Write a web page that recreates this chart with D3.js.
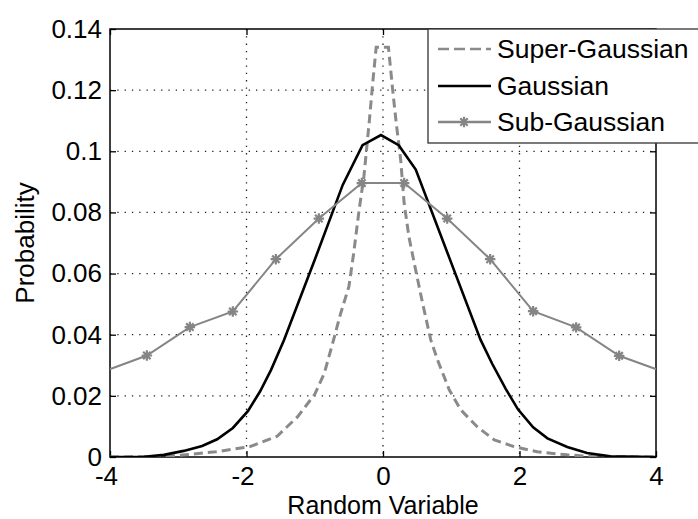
<!DOCTYPE html>
<html>
<head>
<meta charset="utf-8">
<script src="https://cdn.jsdelivr.net/npm/d3@7"></script>
<style>
  body { margin: 0; background: #fff; }
  svg { display: block; font-family: "Liberation Sans", Arial, sans-serif; }
</style>
</head>
<body>
<svg id="chart"></svg>
<script>
// values
var superX = [-4, -3.2, -2.9, -2.45, -1.95, -1.55, -1.25, -1.0, -0.86, -0.74, -0.62, -0.5, -0.43, -0.35, -0.28, -0.2, -0.15, -0.1,
  0.08, 0.14, 0.19, 0.26, 0.31, 0.38, 0.48, 0.58, 0.70, 0.80, 0.97, 1.14, 1.38, 1.63, 1.92, 2.26, 2.70, 3.09, 4];
var superY = [0, 0.0001, 0.0007, 0.0017, 0.0034, 0.0068, 0.0132, 0.0205, 0.0274, 0.0370, 0.0470, 0.0557, 0.0666, 0.0808, 0.0917, 0.110, 0.1225, 0.134,
  0.134, 0.1205, 0.110, 0.097, 0.083, 0.072, 0.061, 0.0503, 0.0383, 0.0317, 0.022, 0.0154, 0.0099, 0.0056, 0.0034, 0.0017, 0.0007, 0.0001, 0];

var gaussX = [-4, -3.5, -3.21, -2.92, -2.65, -2.43, -2.2, -1.98, -1.8, -1.64, -1.45, -1.0, -0.59, -0.30, -0.03, 0.23, 0.48,
  1.0, 1.43, 1.6, 1.8, 1.98, 2.2, 2.41, 2.70, 2.99, 3.33, 4];
var gaussY = [0, 0.0001, 0.0007, 0.0020, 0.0036, 0.0058, 0.0095, 0.0150, 0.0215, 0.0285, 0.0383, 0.0645, 0.089, 0.102, 0.1053, 0.102, 0.094,
  0.0635, 0.0383, 0.0305, 0.0222, 0.0155, 0.0097, 0.0061, 0.0033, 0.0013, 0.0002, 0];

var subX = [-4.09, -3.46, -2.83, -2.2, -1.57, -0.94, -0.31, 0.31, 0.94, 1.57, 2.2, 2.83, 3.46, 4.09];
var subY = [0.028, 0.0332, 0.0425, 0.0476, 0.0647, 0.078, 0.0896, 0.0896, 0.078, 0.0647, 0.0477, 0.0424, 0.0331, 0.028];

var xTicks = [-4, -2, 0, 2, 4];
var yTicks = [0, 0.02, 0.04, 0.06, 0.08, 0.1, 0.12, 0.14];
var seriesNames = ["Super-Gaussian", "Gaussian", "Sub-Gaussian"];

var margin = { top: 29, right: 42, bottom: 62, left: 110 },
  width = 698 - margin.left - margin.right,
  height = 519 - margin.top - margin.bottom;

var svg = d3.select("#chart")
  .attr("width", 698)
  .attr("height", 519)
  .append("g")
  .attr("transform", "translate(" + margin.left + "," + margin.top + ")");

var x = d3.scaleLinear().domain([-4, 4]).range([0, width]);
var y = d3.scaleLinear().domain([0, 0.14]).range([height, 0]);

svg.append("clipPath").attr("id", "plotclip")
  .append("rect").attr("width", width).attr("height", height);

// dotted grid
svg.selectAll(".vgrid")
  .data(xTicks.filter(function (d) { return d > -4 && d < 4; }))
  .enter().append("line")
  .attr("x1", function (d) { return x(d); })
  .attr("x2", function (d) { return x(d); })
  .attr("y1", 0).attr("y2", height)
  .attr("stroke", "#222").attr("stroke-width", 1.3)
  .attr("stroke-dasharray", "1.3,6");
svg.selectAll(".hgrid")
  .data(yTicks.filter(function (d) { return d > 0 && d < 0.14; }))
  .enter().append("line")
  .attr("y1", function (d) { return y(d); })
  .attr("y2", function (d) { return y(d); })
  .attr("x1", 0).attr("x2", width)
  .attr("stroke", "#222").attr("stroke-width", 1.3)
  .attr("stroke-dasharray", "1.3,6");

// axes, ticks inside on all four sides (plain hyphen for negatives, like matlab)
var tickLen = 6;
svg.append("g").attr("transform", "translate(0," + height + ")")
  .call(d3.axisBottom(x).tickValues(xTicks).tickSize(-tickLen).tickPadding(10).tickFormat(function (d) { return String(d); }))
  .call(function (g) {
    g.select(".domain").remove();
    g.selectAll("text").attr("font-size", 26).attr("fill", "#000")
      .attr("dy", "0.71em")
      .attr("dx", function (d) { return d < 0 ? -4 : 0; });
  });
svg.append("g")
  .call(d3.axisTop(x).tickValues(xTicks).tickSize(-tickLen).tickFormat(""))
  .call(function (g) { g.select(".domain").remove(); });
svg.append("g")
  .call(d3.axisLeft(y).tickValues(yTicks).tickSize(-tickLen).tickPadding(8).tickFormat(function (d) { return String(+d.toFixed(2)); }))
  .call(function (g) {
    g.select(".domain").remove();
    g.selectAll("text").attr("font-size", 26).attr("fill", "#000");
  });
svg.append("g").attr("transform", "translate(" + width + ",0)")
  .call(d3.axisRight(y).tickValues(yTicks).tickSize(-tickLen).tickFormat(""))
  .call(function (g) { g.select(".domain").remove(); });
svg.selectAll(".tick line").attr("stroke", "#000").attr("stroke-width", 1.3);

svg.append("rect")
  .attr("width", width).attr("height", height)
  .attr("fill", "none").attr("stroke", "#000").attr("stroke-width", 1.5);

// curves
var plot = svg.append("g").attr("clip-path", "url(#plotclip)");
var line = d3.line()
  .x(function (d) { return x(d[0]); })
  .y(function (d) { return y(d[1]); });

plot.append("path")
  .datum(d3.zip(superX, superY))
  .attr("d", line)
  .attr("fill", "none").attr("stroke", "#8a8a8a")
  .attr("stroke-width", 3).attr("stroke-dasharray", "9,5");

plot.append("path")
  .datum(d3.zip(gaussX, gaussY))
  .attr("d", line)
  .attr("fill", "none").attr("stroke", "#000")
  .attr("stroke-width", 2.6);

plot.append("path")
  .datum(d3.zip(subX, subY))
  .attr("d", line)
  .attr("fill", "none").attr("stroke", "#858585")
  .attr("stroke-width", 2);

// matlab style '*' marker
var star = {
  draw: function (ctx, size) {
    var r = Math.sqrt(size) / 2, k = r * 0.7071;
    ctx.moveTo(-r, 0); ctx.lineTo(r, 0);
    ctx.moveTo(0, -r); ctx.lineTo(0, r);
    ctx.moveTo(-k, -k); ctx.lineTo(k, k);
    ctx.moveTo(-k, k); ctx.lineTo(k, -k);
  }
};
var marker = d3.symbol().type(star).size(110);

plot.selectAll(".mk")
  .data(d3.zip(subX, subY))
  .enter().append("path")
  .attr("class", "mk")
  .attr("transform", function (d) { return "translate(" + x(d[0]) + "," + y(d[1]) + ")"; })
  .attr("d", marker)
  .attr("fill", "none").attr("stroke", "#858585").attr("stroke-width", 2.2);

// labels
svg.append("text")
  .attr("x", width / 2).attr("y", height + 56.5)
  .attr("text-anchor", "middle").attr("font-size", 25)
  .text("Random Variable");
svg.append("text")
  .attr("transform", "translate(" + (34 - margin.left) + "," + (height / 2) + ") rotate(-90)")
  .attr("text-anchor", "middle").attr("font-size", 26)
  .text("Probability");

// legend
var legend = svg.append("g").attr("transform", "translate(" + (428 - margin.left) + ",0)");
legend.append("rect")
  .attr("width", 290).attr("height", 114)
  .attr("fill", "#fff").attr("stroke", "#333").attr("stroke-width", 1.3);

var rowY = [20, 57, 93];
var items = legend.selectAll(".item")
  .data(seriesNames)
  .enter().append("g")
  .attr("transform", function (d, i) { return "translate(0," + rowY[i] + ")"; });

items.append("line")
  .attr("x1", 10).attr("x2", 63)
  .attr("stroke", function (d, i) { return i === 1 ? "#000" : (i === 0 ? "#8a8a8a" : "#858585"); })
  .attr("stroke-width", function (d, i) { return i === 0 ? 2.5 : 2.4; })
  .attr("stroke-dasharray", function (d, i) { return i === 0 ? "11,5" : null; });

items.filter(function (d, i) { return i === 2; })
  .append("path")
  .attr("transform", "translate(36,0)")
  .attr("d", marker)
  .attr("fill", "none").attr("stroke", "#858585").attr("stroke-width", 2.2);

items.append("text")
  .attr("x", 69).attr("dy", "0.35em")
  .attr("font-size", 26.5)
  .text(function (d) { return d; });
</script>
</body>
</html>
